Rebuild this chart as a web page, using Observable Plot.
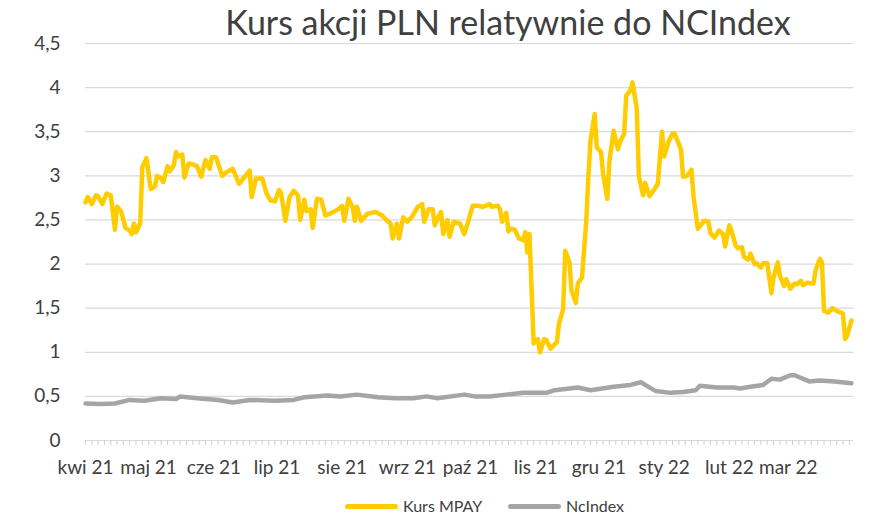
<!DOCTYPE html>
<html>
<head>
<meta charset="utf-8">
<script src="https://cdn.jsdelivr.net/npm/d3@7"></script>
<script src="https://cdn.jsdelivr.net/npm/@observablehq/plot@0.6"></script>
<style>
  body { margin: 0; background: #fff; }
  #wrap { position: relative; width: 877px; height: 515px; font-family: Lato, "Open Sans", sans-serif; color: #404040; overflow: hidden; }
  #chart { position: absolute; left: 0; top: 0; }
  #title { position: absolute; top: 5px; left: 508px; transform: translateX(-50%); white-space: nowrap; font-size: 34px; line-height: 34px; color: #404040; }
  .leg { position: absolute; top: 496px; height: 20px; display: flex; align-items: center; font-size: 16px; line-height: 20px; color: #404040; white-space: nowrap; }
  .sw { display: inline-block; width: 53px; height: 5px; border-radius: 3px; margin-right: 5px; }
</style>
</head>
<body>
<div id="wrap">
  <div id="chart"></div>
  <div id="title"></div>
  <div class="leg" id="leg1" style="left:345px;"><span class="sw"></span><span class="lt"></span></div>
  <div class="leg" id="leg2" style="left:508px;"><span class="sw"></span><span class="lt"></span></div>
</div>
<script>
const chartTitle = "Kurs akcji PLN relatywnie do NCIndex";
const seriesNames = ["Kurs MPAY", "NcIndex"];
const seriesColors = ["#FFCC00", "#A5A5A5"];

const monthTicks = ["2021-04-01","2021-05-01","2021-06-01","2021-07-01","2021-08-01","2021-09-01","2021-10-01","2021-11-01","2021-12-01","2022-01-01","2022-02-01","2022-03-01"];
const monthLabels = ["kwi 21","maj 21","cze 21","lip 21","sie 21","wrz 21","paź 21","lis 21","gru 21","sty 22","lut 22","mar 22"];
const yTicks = [0, 0.5, 1, 1.5, 2, 2.5, 3, 3.5, 4, 4.5];

const kursMPAY = [
  ["2021-04-01",2.70],["2021-04-02",2.76],["2021-04-04",2.68],["2021-04-06",2.78],["2021-04-07",2.77],["2021-04-09",2.68],["2021-04-11",2.80],["2021-04-13",2.78],["2021-04-15",2.39],["2021-04-16",2.65],["2021-04-18",2.59],["2021-04-20",2.41],["2021-04-22",2.38],["2021-04-23",2.34],["2021-04-24",2.46],["2021-04-25",2.36],["2021-04-27",2.46],["2021-04-28",3.10],["2021-04-30",3.20],
  ["2021-05-02",2.85],["2021-05-04",2.88],["2021-05-05",3.00],["2021-05-07",2.97],["2021-05-08",2.93],["2021-05-10",3.11],["2021-05-11",3.05],["2021-05-13",3.12],["2021-05-14",3.27],["2021-05-15",3.22],["2021-05-17",3.24],["2021-05-18",2.98],["2021-05-20",3.14],["2021-05-22",3.13],["2021-05-24",3.11],["2021-05-26",2.99],["2021-05-28",3.18],["2021-05-30",3.08],["2021-05-31",3.21],
  ["2021-06-02",3.21],["2021-06-03",3.14],["2021-06-05",3.00],["2021-06-07",3.04],["2021-06-10",3.08],["2021-06-13",2.91],["2021-06-15",2.97],["2021-06-18",3.06],["2021-06-19",2.76],["2021-06-21",2.97],["2021-06-24",2.97],["2021-06-26",2.80],["2021-06-28",2.72],["2021-06-30",2.71],
  ["2021-07-02",2.84],["2021-07-03",2.80],["2021-07-05",2.49],["2021-07-07",2.76],["2021-07-09",2.83],["2021-07-11",2.78],["2021-07-12",2.50],["2021-07-14",2.73],["2021-07-15",2.60],["2021-07-17",2.62],["2021-07-18",2.41],["2021-07-20",2.74],["2021-07-22",2.73],["2021-07-24",2.55],["2021-07-27",2.58],["2021-07-30",2.62],
  ["2021-08-01",2.66],["2021-08-02",2.49],["2021-08-04",2.74],["2021-08-06",2.64],["2021-08-07",2.49],["2021-08-08",2.65],["2021-08-10",2.49],["2021-08-13",2.57],["2021-08-15",2.58],["2021-08-17",2.59],["2021-08-20",2.55],["2021-08-22",2.50],["2021-08-24",2.46],["2021-08-25",2.29],["2021-08-27",2.46],["2021-08-28",2.29],["2021-08-30",2.53],
  ["2021-09-01",2.48],["2021-09-03",2.53],["2021-09-06",2.65],["2021-09-08",2.68],["2021-09-09",2.48],["2021-09-11",2.62],["2021-09-13",2.62],["2021-09-14",2.44],["2021-09-16",2.55],["2021-09-17",2.59],["2021-09-18",2.34],["2021-09-20",2.50],["2021-09-21",2.31],["2021-09-23",2.48],["2021-09-26",2.46],["2021-09-28",2.34],["2021-09-30",2.49],
  ["2021-10-02",2.66],["2021-10-04",2.66],["2021-10-07",2.65],["2021-10-10",2.68],["2021-10-11",2.65],["2021-10-14",2.66],["2021-10-15",2.62],["2021-10-16",2.48],["2021-10-18",2.58],["2021-10-19",2.37],["2021-10-20",2.40],["2021-10-22",2.39],["2021-10-24",2.29],["2021-10-26",2.27],["2021-10-27",2.36],["2021-10-28",2.13],["2021-10-29",2.34],["2021-10-31",1.10],
  ["2021-11-02",1.15],["2021-11-03",1.00],["2021-11-05",1.15],["2021-11-06",1.14],["2021-11-08",1.04],["2021-11-10",1.09],["2021-11-11",1.11],["2021-11-12",1.32],["2021-11-14",1.49],["2021-11-15",2.15],["2021-11-17",2.02],["2021-11-18",1.70],["2021-11-20",1.56],["2021-11-21",1.78],["2021-11-23",1.85],["2021-11-25",2.49],["2021-11-26",2.99],["2021-11-27",3.40],["2021-11-29",3.70],["2021-11-30",3.32],
  ["2021-12-02",3.27],["2021-12-03",3.02],["2021-12-05",2.74],["2021-12-06",3.17],["2021-12-08",3.51],["2021-12-10",3.30],["2021-12-11",3.38],["2021-12-13",3.48],["2021-12-14",3.91],["2021-12-16",3.97],["2021-12-17",4.06],["2021-12-19",3.76],["2021-12-20",2.99],["2021-12-22",2.78],["2021-12-23",2.92],["2021-12-25",2.77],["2021-12-26",2.80],["2021-12-28",2.87],["2021-12-29",2.91],["2021-12-31",3.50],
  ["2022-01-01",3.22],["2022-01-03",3.38],["2022-01-05",3.48],["2022-01-06",3.48],["2022-01-08",3.36],["2022-01-09",3.30],["2022-01-10",2.99],["2022-01-12",3.00],["2022-01-14",3.07],["2022-01-15",2.76],["2022-01-17",2.40],["2022-01-18",2.43],["2022-01-20",2.49],["2022-01-22",2.48],["2022-01-23",2.35],["2022-01-25",2.30],["2022-01-27",2.38],["2022-01-29",2.34],["2022-01-30",2.20],
  ["2022-02-01",2.44],["2022-02-02",2.38],["2022-02-04",2.21],["2022-02-05",2.18],["2022-02-07",2.19],["2022-02-08",2.08],["2022-02-10",2.05],["2022-02-11",2.12],["2022-02-13",2.00],["2022-02-14",2.01],["2022-02-16",1.96],["2022-02-17",2.01],["2022-02-19",2.01],["2022-02-21",1.67],["2022-02-22",1.85],["2022-02-24",2.02],["2022-02-25",1.87],["2022-02-27",1.75],["2022-02-28",1.83],
  ["2022-03-02",1.72],["2022-03-04",1.78],["2022-03-05",1.77],["2022-03-07",1.81],["2022-03-08",1.76],["2022-03-10",1.79],["2022-03-12",1.78],["2022-03-13",1.78],["2022-03-14",1.93],["2022-03-16",2.06],["2022-03-17",2.02],["2022-03-18",1.47],["2022-03-20",1.45],["2022-03-22",1.50],["2022-03-24",1.47],["2022-03-26",1.45],["2022-03-27",1.44],["2022-03-28",1.15],["2022-03-29",1.19],["2022-03-31",1.36]
];

const ncIndex = [
  ["2021-04-01",0.42],["2021-04-08",0.415],["2021-04-15",0.42],["2021-04-22",0.46],["2021-04-29",0.45],["2021-05-07",0.48],["2021-05-14",0.47],["2021-05-16",0.50],["2021-05-24",0.48],["2021-06-03",0.46],["2021-06-10",0.43],["2021-06-18",0.46],["2021-06-30",0.45],["2021-07-09",0.46],["2021-07-14",0.49],["2021-07-25",0.51],["2021-07-31",0.50],["2021-08-08",0.52],["2021-08-18",0.49],["2021-08-26",0.48],["2021-09-04",0.48],["2021-09-10",0.50],["2021-09-15",0.48],["2021-09-28",0.52],["2021-10-03",0.50],["2021-10-10",0.50],["2021-10-18",0.52],["2021-10-26",0.54],["2021-11-06",0.54],["2021-11-10",0.57],["2021-11-21",0.60],["2021-11-27",0.57],["2021-12-08",0.61],["2021-12-16",0.63],["2021-12-21",0.66],["2021-12-23",0.63],["2021-12-28",0.56],["2022-01-04",0.54],["2022-01-10",0.55],["2022-01-16",0.57],["2022-01-18",0.62],["2022-01-26",0.60],["2022-02-03",0.60],["2022-02-06",0.59],["2022-02-11",0.61],["2022-02-17",0.63],["2022-02-21",0.70],["2022-02-25",0.69],["2022-03-02",0.74],["2022-03-04",0.74],["2022-03-11",0.67],["2022-03-16",0.68],["2022-03-23",0.67],["2022-03-31",0.65]
];

const toRows = (arr) => arr.map(([d, v]) => ({date: new Date(d + "T00:00:00Z"), value: v}));
const mpayRows = toRows(kursMPAY);
const ncRows = toRows(ncIndex);

const xStart = new Date("2021-04-01T00:00:00Z");
const xEnd = new Date("2022-04-01T00:00:00Z");
const monthDates = monthTicks.map(d => new Date(d + "T00:00:00Z"));
const labelByTime = new Map(monthDates.map((d, i) => [+d, monthLabels[i]]));
const minorTicks = d3.utcDay.range(xStart, new Date("2022-04-02T00:00:00Z"), 3);
const fmtY = d => String(d).replace(".", ",");

const plot = Plot.plot({
  width: 877,
  height: 515,
  marginLeft: 85,
  marginRight: 24,
  marginTop: 43,
  marginBottom: 75,
  style: {fontFamily: "Lato, 'Open Sans', sans-serif", fontSize: "19px", color: "#404040", background: "transparent"},
  x: {type: "utc", domain: [xStart, xEnd], label: null},
  y: {domain: [0, 4.5], label: null},
  marks: [
    Plot.ruleY(yTicks, {stroke: "#d9d9d9", strokeWidth: 1.2}),
    Plot.axisX(minorTicks, {tickSize: 5, tickFormat: () => "", stroke: "#d0d0d0", strokeWidth: 1, label: null}),
    Plot.axisX(monthDates, {tickSize: 0, tickPadding: 20, tickFormat: d => labelByTime.get(+d), fontSize: 19, fill: "#404040", label: null}),
    Plot.axisY(yTicks, {tickSize: 0, tickPadding: 25, tickFormat: fmtY, fontSize: 19, fill: "#404040", label: null}),
    Plot.line(ncRows, {x: "date", y: "value", stroke: seriesColors[1], strokeWidth: 4.5, strokeLinejoin: "round", strokeLinecap: "round"}),
    Plot.line(mpayRows, {x: "date", y: "value", stroke: seriesColors[0], strokeWidth: 4.5, strokeLinejoin: "round", strokeLinecap: "round"})
  ]
});
document.getElementById("chart").appendChild(plot);

document.getElementById("title").textContent = chartTitle;
["leg1", "leg2"].forEach((id, i) => {
  const el = document.getElementById(id);
  el.querySelector(".sw").style.background = seriesColors[i];
  el.querySelector(".lt").textContent = seriesNames[i];
});
</script>
</body>
</html>
